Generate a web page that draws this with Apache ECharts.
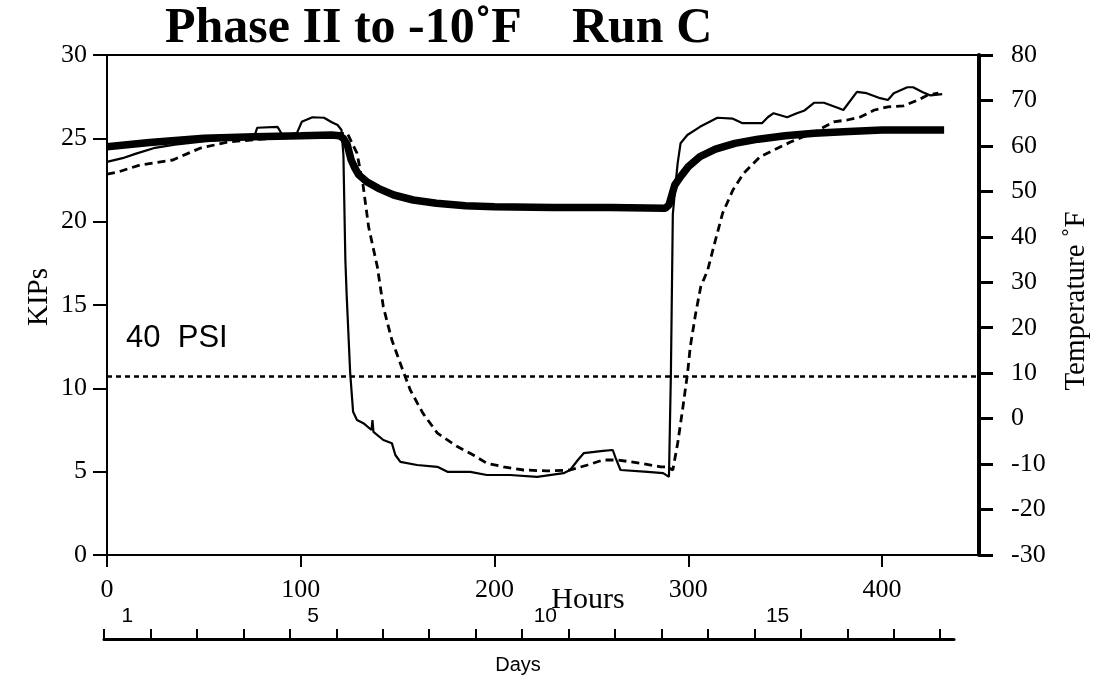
<!DOCTYPE html>
<html>
<head>
<meta charset="utf-8">
<script src="https://cdn.jsdelivr.net/npm/echarts@6/dist/echarts.min.js"></script>
<style>
  html, body { margin: 0; padding: 0; background: #fff; }
  #chart { width: 1118px; height: 681px; }
</style>
</head>
<body>
<div id="chart"></div>
<script>
// Load on the specimen (KIPs) against elapsed hours
const hoursLoad = [0, 22, 50, 76, 100, 116, 120, 122, 124, 126, 128, 130, 134, 140, 148, 158, 170, 185, 200, 230, 260, 288, 290, 291.5, 293, 296, 300, 306, 314, 324, 336, 350, 365, 380, 400, 420, 432];
const kipsLoad = [24.5, 24.75, 25.0, 25.1, 25.15, 25.2, 25.15, 25.0, 24.6, 23.7, 23.2, 22.8, 22.4, 22.0, 21.6, 21.3, 21.1, 20.95, 20.9, 20.85, 20.85, 20.8, 21.0, 21.6, 22.2, 22.7, 23.3, 23.9, 24.35, 24.7, 24.95, 25.15, 25.3, 25.4, 25.5, 25.5, 25.5];

// Chamber air temperature (°F)
const hoursAir = [0, 8, 15, 24, 35, 50, 65, 76, 77.5, 88, 90.5, 98, 100.5, 106, 112, 116, 119, 121, 122, 123, 123.7, 125.5, 127, 129, 132.3, 136.5, 137, 137.5, 142.6, 147, 148.8, 151.4, 160, 170.5, 175.7, 187.5, 196, 208, 222, 235.6, 239, 243, 246, 256, 261, 262.5, 265, 279, 287, 290, 291, 292, 293.5, 294.5, 296, 299.5, 306, 315, 323, 328, 338, 341, 344, 351, 356, 360, 365, 370, 377, 380, 387, 392, 399, 403, 406, 413, 416, 421, 425, 431];
const tempAir = [56.5, 57.3, 58.3, 59.5, 60.3, 61.0, 61.5, 62.0, 64.0, 64.2, 62.4, 62.8, 65.3, 66.3, 66.2, 65.2, 64.6, 63.5, 58, 35, 27, 10, 1.5, -0.3, -1.0, -2.5, -0.3, -2.9, -4.7, -5.4, -8.0, -9.5, -10.2, -10.6, -11.7, -11.7, -12.4, -12.4, -12.8, -12.0, -11.3, -9.1, -7.6, -7.1, -6.9, -8.7, -11.3, -11.7, -12.0, -12.8, 10, 45, 52, 56.2, 60.6, 62.4, 64.2, 66.2, 66.0, 65.0, 65.0, 66.3, 67.2, 66.3, 67.2, 67.8, 69.5, 69.5, 68.4, 67.9, 71.9, 71.6, 70.5, 70.1, 71.6, 72.9, 72.9, 71.8, 71.1, 71.4];

// Specimen temperature (°F)
const hoursSpec = [0, 6, 17, 34, 48, 63, 80, 100, 115, 124, 129, 132, 135, 139.5, 142.6, 147, 152, 156.5, 163, 170.5, 181, 189, 196, 204.6, 215, 227, 239, 248, 256, 263.5, 275, 285.7, 289, 292, 294.5, 297, 299.6, 301, 303.8, 306.4, 310, 314, 317.7, 323, 328.6, 337, 346, 353, 365, 375, 382, 389, 396, 403, 411, 418.5, 423.6, 429];
const tempSpec = [53.8, 54.3, 55.8, 56.9, 59.5, 60.9, 61.5, 62.0, 62.5, 62.8, 58.4, 51.8, 42.2, 33.4, 24.6, 17.3, 11.4, 6.3, 1.2, -3.2, -6.2, -8.0, -9.8, -10.6, -11.3, -11.5, -11.3, -10.2, -9.1, -9.1, -9.8, -10.6, -10.6, -11.3, -5.4, 1.9, 10.0, 15.8, 23.2, 29.0, 32.7, 39.3, 45.2, 50.3, 54.0, 57.6, 59.5, 60.9, 63.0, 65.3, 65.7, 66.4, 67.9, 68.6, 68.8, 70.1, 71.2, 71.6];

// Reference load level for 40 PSI (KIPs)
const psiLineKips = 10.75;

// Axis ticks and labels
const hourTicks = [0, 100, 200, 300, 400];
const dayTicks = [0, 1, 2, 3, 4, 5, 6, 7, 8, 9, 10, 11, 12, 13, 14, 15, 16, 17, 18];
const dayLabels = [1, 5, 10, 15];

const serif = 'Liberation Serif';
const sans = 'Liberation Sans';

function pairs(xs, ys) { return xs.map((x, i) => [x, ys[i]]); }

const chart = echarts.init(document.getElementById('chart'), null, { renderer: 'canvas' });

const option = {
  animation: false,
  backgroundColor: '#fff',
  grid: [
    { left: 107, right: 139, top: 55, bottom: 126, show: true, borderColor: '#000', borderWidth: 2, backgroundColor: 'transparent' },
    // day scale shares the hour scale: 24 h per day
    { left: 104, width: 850, top: 638, height: 1, show: false }
  ],
  xAxis: [
    {
      gridIndex: 0, type: 'value', min: 0, max: 450, position: 'bottom',
      axisLine: { onZero: false, lineStyle: { color: '#000', width: 2 } },
      axisTick: { customValues: hourTicks, length: 12, lineStyle: { color: '#000', width: 2 } },
      axisLabel: { customValues: hourTicks, margin: 22, color: '#000', fontFamily: serif, fontSize: 26 },
      splitLine: { show: false }
    },
    {
      gridIndex: 1, type: 'value', min: 0, max: 850 / (871 / 450) / 24, position: 'bottom',
      axisLine: { onZero: false, lineStyle: { color: '#000', width: 3 } },
      axisTick: { inside: true, customValues: dayTicks, length: 10, lineStyle: { color: '#000', width: 2 } },
      axisLabel: {
        inside: true, customValues: dayLabels.map(d => d - 0.5),
        formatter: v => String(Math.round(v + 0.5)),
        margin: 12, color: '#000', fontFamily: sans, fontSize: 21
      },
      name: 'Days', nameLocation: 'middle', nameGap: 16,
      nameTextStyle: { color: '#000', fontFamily: sans, fontSize: 20, padding: [0, 22, 0, 0] },
      splitLine: { show: false }
    }
  ],
  yAxis: [
    {
      gridIndex: 0, type: 'value', min: 0, max: 30, interval: 5, position: 'left',
      axisLine: { show: true, onZero: false, lineStyle: { color: '#000', width: 2 } },
      axisTick: { show: true, length: 14, lineStyle: { color: '#000', width: 2 } },
      axisLabel: { margin: 20, color: '#000', fontFamily: serif, fontSize: 26 },
      name: 'KIPs', nameLocation: 'middle', nameGap: 53, nameRotate: 90, nameMoveOverlap: false,
      nameTextStyle: { color: '#000', fontFamily: serif, fontSize: 29, padding: [0, 0, 0, 16] },
      splitLine: { show: false }
    },
    {
      gridIndex: 0, type: 'value', min: -30, max: 80, interval: 10, position: 'right',
      axisLine: { show: true, onZero: false, lineStyle: { color: '#000', width: 4 } },
      axisTick: { show: true, length: 14, lineStyle: { color: '#000', width: 3 } },
      axisLabel: { margin: 32, color: '#000', fontFamily: serif, fontSize: 26 },
      name: 'Temperature ˚F', nameLocation: 'middle', nameGap: 83, nameRotate: 90,
      nameTextStyle: { color: '#000', fontFamily: serif, fontSize: 29, padding: [0, 0, 0, 8] },
      splitLine: { show: false }
    },
    { gridIndex: 1, type: 'value', show: false, min: 0, max: 1 }
  ],
  series: [
    {
      name: 'Load', type: 'line', xAxisIndex: 0, yAxisIndex: 0,
      data: pairs(hoursLoad, kipsLoad), showSymbol: false, smooth: false,
      lineStyle: { color: '#000', width: 7.5 },
      markLine: {
        silent: true, symbol: 'none', label: { show: false },
        lineStyle: { color: '#000', width: 2.5, type: [5, 4] },
        data: [{ yAxis: psiLineKips }]
      }
    },
    {
      name: 'Air', type: 'line', xAxisIndex: 0, yAxisIndex: 1,
      data: pairs(hoursAir, tempAir), showSymbol: false, smooth: false,
      lineStyle: { color: '#000', width: 2.2 }
    },
    {
      name: 'Specimen', type: 'line', xAxisIndex: 0, yAxisIndex: 1,
      data: pairs(hoursSpec, tempSpec), showSymbol: false, smooth: false,
      lineStyle: { color: '#000', width: 2.8, type: [8, 5] }
    }
  ],
  graphic: [
    {
      type: 'text', x: 165, y: 29,
      style: { text: 'Phase II to -10˚F    Run C', font: 'bold 50px "Liberation Serif"', fill: '#000', align: 'left', verticalAlign: 'middle' }
    },
    {
      type: 'text', x: 126, y: 338,
      style: { text: '40  PSI', font: '31px "Liberation Sans"', fill: '#000', align: 'left', verticalAlign: 'middle' }
    },
    {
      type: 'text', x: 588, y: 600,
      style: { text: 'Hours', font: '30px "Liberation Serif"', fill: '#000', align: 'center', verticalAlign: 'middle' }
    }
  ]
};

chart.setOption(option);
</script>
</body>
</html>
